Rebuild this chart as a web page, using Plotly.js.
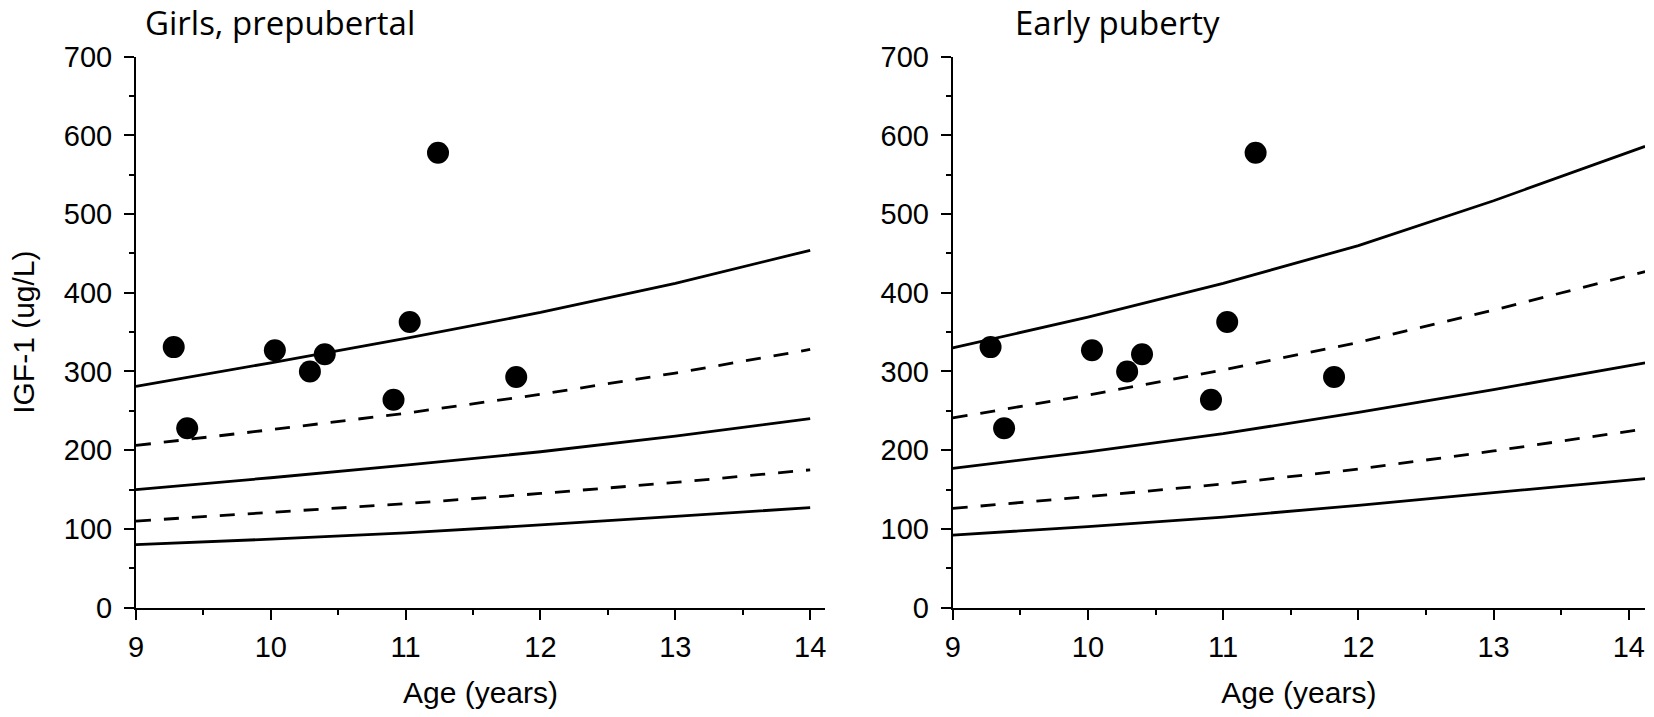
<!DOCTYPE html>
<html>
<head>
<meta charset="utf-8">
<script src="https://cdn.plot.ly/plotly-3.0.1.min.js"></script>
<style>
  html, body { margin: 0; padding: 0; background: #fff; }
  #chart { width: 1654px; height: 717px; }
</style>
</head>
<body>
<div id="chart"></div>
<script>
// measured children (same points in both panels)
const ages = [9.28, 9.38, 10.03, 10.29, 10.40, 10.91, 11.03, 11.24, 11.82];
const igf1 = [331, 228, 327, 300, 322, 264, 363, 578, 293];

// reference curves, read at whole years
const prepAges = [9, 10, 11, 12, 13, 14];
const prepHigh = [281, 311, 342, 375, 412, 454];
const prepUpperDash = [206, 226, 247, 271, 298, 328];
const prepMid = [150, 165, 181, 198, 218, 240];
const prepLowerDash = [110, 121, 132, 145, 159, 175];
const prepLow = [80, 87, 95, 105, 116, 127];

const earlyAges = [9, 10, 11, 12, 13, 14, 14.12];
const earlyHigh = [330, 369, 412, 460, 517, 579, 586];
const earlyUpperDash = [241, 270, 302, 337, 378, 421, 427];
const earlyMid = [177, 198, 221, 248, 277, 307, 311];
const earlyLowerDash = [126, 141, 157, 176, 199, 224, 227];
const earlyLow = [92, 103, 115, 130, 146, 162, 164];

const tickFont = { family: 'Liberation Sans, Arial, sans-serif', size: 29, color: '#000' };
const axisTitleFont = { family: 'Liberation Sans, Arial, sans-serif', size: 30, color: '#000' };
const titleFont = { family: 'Open Sans, sans-serif', size: 33, color: '#000' };

function curve(x, y, dashed, xa, ya) {
  return {
    x: x, y: y, xaxis: xa, yaxis: ya, type: 'scatter', mode: 'lines',
    line: { color: '#000', width: 2.8, dash: dashed ? '15px,13px' : 'solid' },
    hoverinfo: 'skip'
  };
}

function dots(xa, ya) {
  return {
    x: ages, y: igf1, xaxis: xa, yaxis: ya, type: 'scatter', mode: 'markers',
    marker: { color: '#000', size: 22, symbol: 'circle' }
  };
}

const data = [
  curve(prepAges, prepHigh, false, 'x', 'y'),
  curve(prepAges, prepUpperDash, true, 'x', 'y'),
  curve(prepAges, prepMid, false, 'x', 'y'),
  curve(prepAges, prepLowerDash, true, 'x', 'y'),
  curve(prepAges, prepLow, false, 'x', 'y'),
  dots('x', 'y'),
  curve(earlyAges, earlyHigh, false, 'x2', 'y2'),
  curve(earlyAges, earlyUpperDash, true, 'x2', 'y2'),
  curve(earlyAges, earlyMid, false, 'x2', 'y2'),
  curve(earlyAges, earlyLowerDash, true, 'x2', 'y2'),
  curve(earlyAges, earlyLow, false, 'x2', 'y2'),
  dots('x2', 'y2')
];

function xAxis(domain, range, anchor) {
  return {
    domain: domain, range: range, anchor: anchor,
    tick0: 9, dtick: 1, ticks: 'outside', ticklen: 10, tickwidth: 2, tickcolor: '#000',
    minor: { dtick: 0.5, ticks: 'outside', ticklen: 5, tickwidth: 2, tickcolor: '#000', showgrid: false },
    showline: true, linewidth: 2, linecolor: '#000',
    showgrid: false, zeroline: false, tickfont: tickFont, ticklabelstandoff: 3,
    title: { text: 'Age (years)', font: axisTitleFont, standoff: 20 }
  };
}

function yAxis(domain, anchor, title) {
  return {
    domain: domain, range: [0, 700], anchor: anchor,
    tick0: 0, dtick: 100, ticks: 'outside', ticklen: 10, tickwidth: 2, tickcolor: '#000',
    minor: { dtick: 50, ticks: 'outside', ticklen: 5, tickwidth: 2, tickcolor: '#000', showgrid: false },
    showline: true, linewidth: 2, linecolor: '#000',
    showgrid: false, zeroline: false, tickfont: tickFont, ticklabelstandoff: 6,
    title: { text: title, font: axisTitleFont, standoff: 20 }
  };
}

const layout = {
  width: 1654, height: 717,
  margin: { l: 0, r: 0, t: 0, b: 0 },
  paper_bgcolor: '#fff', plot_bgcolor: '#fff',
  showlegend: false,
  xaxis: xAxis([0.0822, 0.4988], [9, 14.11], 'y'),
  yaxis: yAxis([0.1526, 0.9209], 'x', 'IGF-1 (ug/L)'),
  xaxis2: xAxis([0.576, 0.9946], [9, 14.12], 'y2'),
  yaxis2: yAxis([0.1526, 0.9209], 'x2', ''),
  annotations: [
    { text: 'Girls, prepubertal', xref: 'paper', yref: 'paper', x: 0.0865, y: 0.969,
      xanchor: 'left', yanchor: 'middle', showarrow: false, font: titleFont },
    { text: 'Early puberty', xref: 'paper', yref: 'paper', x: 0.6125, y: 0.969,
      xanchor: 'left', yanchor: 'middle', showarrow: false, font: titleFont }
  ]
};

Plotly.newPlot('chart', data, layout, { displayModeBar: false, staticPlot: true });
</script>
</body>
</html>
